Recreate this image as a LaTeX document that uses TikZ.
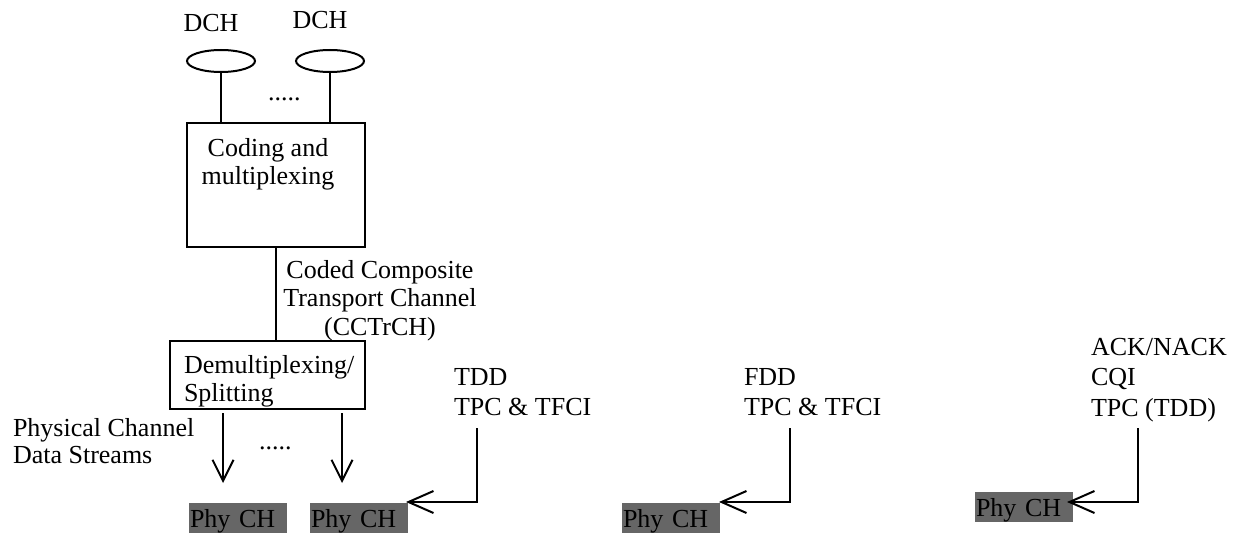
\documentclass[tikz,border=0pt]{standalone}
\usepackage{fontspec}
\setmainfont{Liberation Serif}
\usetikzlibrary{positioning,arrows.meta,shapes.geometric}

\begin{document}
\begin{tikzpicture}[x=0.5pt,y=-0.5pt,line width=1pt,font=\fontsize{13}{14.5}\selectfont]
\tikzset{chan/.style={draw,ellipse,minimum width=34pt,minimum height=11pt,inner sep=0pt},
  blk/.style={draw,rectangle,inner sep=0pt},
  txt/.style={inner sep=0pt,align=left},
  phych/.style={fill=black!60,inner xsep=0.5pt,inner ysep=0pt,minimum height=15pt,text width=48pt,text depth=0pt,align=left,anchor=north west},
  farrow/.style={-{Straight Barb[length=10.5pt,width=10.5pt]}},
  harrow/.style={-{Straight Barb[length=12.5pt,width=11pt]}}}
\useasboundingbox (0,0) rectangle (1236,534);
\node[chan] (e1) at (221,61) {};
\node[chan] (e2) at (330,61) {};
\node[txt,anchor=base] (d1) at (211,32) {DCH};
\node[txt,anchor=base] (d2) at (320,29) {DCH};
\node[txt,anchor=base west] (dots1) at (267,101) {.....};
\node[blk,minimum width=89pt,minimum height=62pt] (cod) at (276,185) {};
\node[txt,anchor=north,align=center,font=\fontsize{13}{14}\selectfont] (codt) at (268,137) {Coding and\\multiplexing};
\node[blk,minimum width=97.5pt,minimum height=34pt] (dmx) at (267.5,375) {};
\node[txt,anchor=north west,font=\fontsize{13}{14}\selectfont] (dmxt) at (183,354) {Demultiplexing/\\Splitting};
\node[txt,anchor=north,align=center,font=\fontsize{13}{14.25}\selectfont] (cctrch) at (380,259) {Coded Composite\\Transport Channel\\(CCTrCH)};
\node[txt,anchor=north west,font=\fontsize{13}{13.5}\selectfont] (pcds) at (12,417) {Physical Channel\\Data Streams};
\node[txt,anchor=base west] (dots2) at (258,449) {.....};

\node[phych] (ch1) at (188,502) {Phy CH};
\node[phych] (ch2) at (309,502) {Phy CH};
\node[phych] (ch3) at (621,502) {Phy CH};
\node[phych] (ch4) at (974,491) {Phy CH};

\node[txt,anchor=north west,font=\fontsize{13}{15}\selectfont] (tdd) at (453,367) {TDD\\TPC \& TFCI};
\node[txt,anchor=north west,font=\fontsize{13}{15}\selectfont] (fdd) at (743,367) {FDD\\TPC \& TFCI};
\node[txt,anchor=north west,font=\fontsize{13}{15.25}\selectfont] (ack) at (1090,337) {ACK/NACK\\CQI\\TPC (TDD)};

\coordinate (s1) at (223,413);
\coordinate (t1) at (223,483);
\coordinate (s2) at (342,413);
\coordinate (t2) at (342,483);
\coordinate (tddc) at (477,428);
\coordinate (fddc) at (790,428);
\coordinate (ackc) at (1138,428);

\draw (e1) -- (e1 |- cod.north);
\draw (e2) -- (e2 |- cod.north);
\draw (cod.south) -- (cod.south |- dmx.north);
\draw[farrow] (s1) -- (t1);
\draw[farrow] (s2) -- (t2);
\draw[harrow] (tddc) |- ([xshift=-1.5pt]ch2.north east);
\draw[harrow] (fddc) |- ([xshift=-1pt]ch3.north east);
\draw[harrow] (ackc) |- ([xshift=-3.5pt,yshift=2.5pt]ch4.east);
\end{tikzpicture}
\end{document}
